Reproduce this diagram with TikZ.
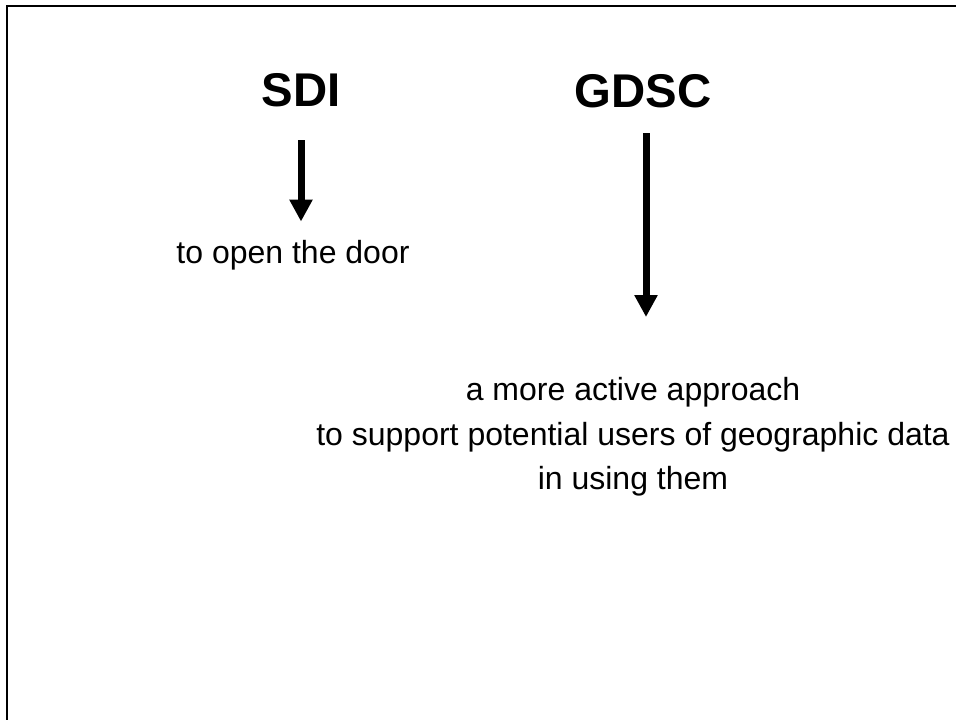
\documentclass[tikz,border=0pt]{standalone}
\usepackage{fontspec}
\setmainfont{Liberation Sans}
\usetikzlibrary{arrows.meta}
\begin{document}
\begin{tikzpicture}[x=0.75pt,y=-0.75pt]
	\tikzstyle{every node}+=[inner sep=0pt]
	\tikzstyle{title}=[font=\fontsize{35.5}{42}\selectfont\bfseries]
	\tikzstyle{body}=[font=\fontsize{24}{33}\selectfont, align=center]
	\tikzstyle{flow}=[line width=5.25pt, -{Triangle[width=16.5pt,length=16.5pt]}]
	\useasboundingbox (0,0) rectangle (956,720);
	\draw [line width=1.5pt] (7,720) -- (7,6.3) -- (956,6.3);
	\node [title] (sdi) at (301,90) {SDI};
	\node [title] (gdsc) at (643,91) {GDSC};
	\node [body, anchor=base] (door) at (293,263) {to open the door};
	\node [body, anchor=base] (active) at (633,400) {a more active approach};
	% base of a two-line node sits on its last line
	\node [body, anchor=base] (support) at (633,489) {to support potential users of geographic data\\in using them};
	\coordinate (gdsc end) at (646,317);
	\draw [flow, shorten <=25pt, shorten >=13.5pt] (sdi.south) -- (sdi.south |- door.north);
	\draw [flow, shorten <=19pt] (gdsc.south -| gdsc end) -- (gdsc end);
\end{tikzpicture}
\end{document}
